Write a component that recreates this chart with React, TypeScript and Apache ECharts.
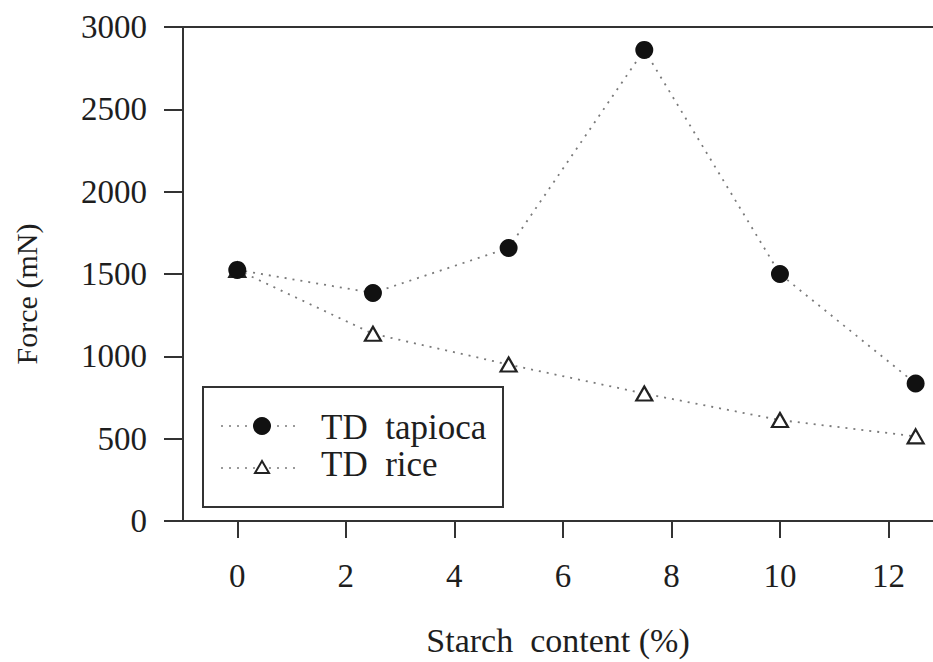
import React, { useEffect, useRef } from "react";
import * as echarts from "echarts";

// Starch content (%) and measured force (mN)
const starchContent = [0, 2.5, 5, 7.5, 10, 12.5];
const tapiocaForce = [1525, 1385, 1658, 2861, 1500, 835];
const riceForce = [1525, 1137, 950, 774, 613, 514];
const xTickValues = [0, 2, 4, 6, 8, 10, 12];
const seriesNames = ["TD  tapioca", "TD  rice"];

const FONT = "Liberation Serif";
const INK = "#1e1e1e";
const DOT_LINE = "#7a7a7a";

export default function App() {
  const ref = useRef<HTMLDivElement>(null);

  useEffect(() => {
    if (!ref.current) return;
    const chart = echarts.init(ref.current, undefined, { renderer: "svg" });

    const pairs = (ys: number[]) => starchContent.map((x, i) => [x, ys[i]]);
    const dotted = { color: DOT_LINE, width: 1.8, type: [2, 6] as number[] };

    chart.setOption({
      animation: false,
      backgroundColor: "#ffffff",
      textStyle: { fontFamily: FONT },
      grid: { left: 183, top: 27, right: 0, bottom: 139 },
      xAxis: [
        {
          type: "value",
          min: -1,
          max: 12.82,
          position: "bottom",
          splitLine: { show: false },
          axisLine: { show: true, onZero: false, lineStyle: { color: "#333", width: 2 } },
          axisTick: {
            show: true,
            inside: false,
            length: 17,
            customValues: xTickValues,
            lineStyle: { color: "#333", width: 2 },
          },
          axisLabel: {
            show: true,
            customValues: xTickValues,
            margin: 38,
            fontSize: 33,
            color: INK,
            fontFamily: FONT,
            formatter: (v: number) => String(v),
          },
          name: "Starch  content (%)",
          nameLocation: "middle",
          nameGap: 102,
          nameTextStyle: { fontSize: 34, color: INK, fontFamily: FONT },
        },
        {
          type: "value",
          min: -1,
          max: 12.82,
          position: "top",
          splitLine: { show: false },
          axisLine: { show: true, onZero: false, lineStyle: { color: "#333", width: 2 } },
          axisTick: { show: false },
          axisLabel: { show: false },
        },
      ],
      yAxis: {
        type: "value",
        min: 0,
        max: 3000,
        interval: 500,
        splitLine: { show: false },
        axisLine: { show: true, onZero: false, lineStyle: { color: "#333", width: 2 } },
        axisTick: {
          show: true,
          inside: false,
          length: 19,
          lineStyle: { color: "#333", width: 2 },
        },
        axisLabel: {
          margin: 36,
          fontSize: 33,
          color: INK,
          fontFamily: FONT,
          formatter: (v: number) => String(v),
        },
      },
      series: [
        {
          name: seriesNames[1],
          type: "line",
          xAxisIndex: 0,
          data: pairs(riceForce),
          symbol: "triangle",
          symbolSize: [16, 14],
          lineStyle: dotted,
          itemStyle: { color: "#ffffff", borderColor: "#222", borderWidth: 2.2 },
          z: 2,
        },
        {
          name: seriesNames[0],
          type: "line",
          xAxisIndex: 0,
          data: pairs(tapiocaForce),
          symbol: "circle",
          symbolSize: 18,
          lineStyle: dotted,
          itemStyle: { color: "#111", borderWidth: 0 },
          z: 3,
        },
      ],
      graphic: [
        {
          type: "text",
          x: 26,
          y: 294,
          rotation: Math.PI / 2,
          style: {
            text: "Force (mN)",
            font: `30px "${FONT}"`,
            fill: INK,
            align: "center",
            verticalAlign: "middle",
          },
        },
        {
          type: "group",
          left: 202,
          top: 386,
          children: [
            {
              type: "rect",
              shape: { x: 0, y: 0, width: 300, height: 120 },
              style: { fill: "#ffffff", stroke: "#333", lineWidth: 2 },
            },
            {
              type: "line",
              shape: { x1: 18, y1: 39, x2: 98, y2: 39 },
              style: { stroke: DOT_LINE, lineWidth: 1.6, lineDash: [2, 6] },
            },
            {
              type: "circle",
              shape: { cx: 59, cy: 39, r: 9 },
              style: { fill: "#111" },
            },
            {
              type: "text",
              x: 118,
              y: 40,
              style: {
                text: seriesNames[0],
                font: `35px "${FONT}"`,
                fill: INK,
                verticalAlign: "middle",
              },
            },
            {
              type: "line",
              shape: { x1: 18, y1: 81, x2: 98, y2: 81 },
              style: { stroke: DOT_LINE, lineWidth: 1.6, lineDash: [2, 6] },
            },
            {
              type: "polygon",
              shape: { points: [[59, 74], [66, 86], [52, 86]] },
              style: { fill: "#ffffff", stroke: "#222", lineWidth: 2 },
            },
            {
              type: "text",
              x: 118,
              y: 77,
              style: {
                text: seriesNames[1],
                font: `35px "${FONT}"`,
                fill: INK,
                verticalAlign: "middle",
              },
            },
          ],
        },
      ],
    });

    return () => chart.dispose();
  }, []);

  return (
    <div
      ref={ref}
      style={{ position: "fixed", left: 0, top: 0, width: 933, height: 662, background: "#fff" }}
    />
  );
}
